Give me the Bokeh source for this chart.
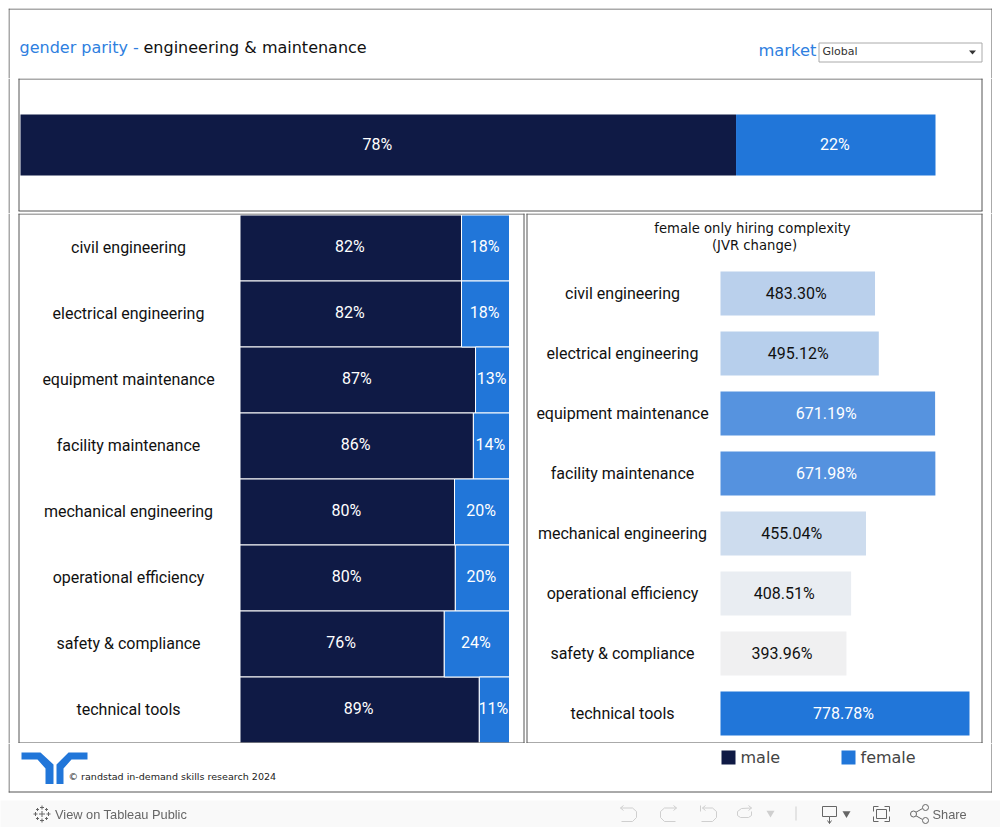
from bokeh.plotting import figure
from bokeh.layouts import column, row
from bokeh.models import Range1d
from bokeh.core.properties import value
from bokeh.embed import file_html
from bokeh.resources import INLINE

# ---- data ----
skills = ["civil engineering", "electrical engineering", "equipment maintenance", "facility maintenance",
          "mechanical engineering", "operational efficiency", "safety & compliance", "technical tools"]
male_share = [82.2, 82.2, 87.4, 86.6, 79.6, 79.9, 75.8, 88.8]
female_share = [17.8, 17.8, 12.6, 13.4, 20.4, 20.1, 24.2, 11.2]
male_labels = ["82%", "82%", "87%", "86%", "80%", "80%", "76%", "89%"]
female_labels = ["18%", "18%", "13%", "14%", "20%", "20%", "24%", "11%"]
overall_male = [78.2]
overall_female = [21.8]
overall_male_label = ["78%"]
overall_female_label = ["22%"]
jvr_change = [483.30, 495.12, 671.19, 671.98, 455.04, 408.51, 393.96, 778.78]
jvr_labels = ["483.30%", "495.12%", "671.19%", "671.98%", "455.04%", "408.51%", "393.96%", "778.78%"]
jvr_colors = ["#bad0ec", "#b7cfec", "#5693df", "#5592df", "#cddcee", "#e9edf2", "#f0f0f1", "#2176d9"]
jvr_text = ["#111111", "#111111", "#ffffff", "#ffffff", "#111111", "#111111", "#111111", "#ffffff"]

NAVY = "#0f1a45"
BLUE = "#2176d9"
TITLE_BLUE = "#2f7fdf"
BORDER = "#555555"
ROBOTO = value("Roboto")
DEJAVU = value("DejaVu Sans")
ARIAL = value("Liberation Sans")


def make(x0, x1, y0, y1, xr=None, yr=None, **kw):
    """A figure covering page pixels x0..x1, y0..y1, with a 'px' / 'py' pair of page-pixel ranges."""
    p = figure(width=x1 - x0, height=y1 - y0,
               x_range=xr or Range1d(x0, x1), y_range=yr or Range1d(y1, y0),
               x_axis_location=None, y_axis_location=None, tools="",
               toolbar_location=None, output_backend="svg", min_border=0,
               min_border_left=0, min_border_right=0, min_border_top=0, min_border_bottom=0,
               outline_line_color=None, margin=(0, 0, 0, 0), **kw)
    p.grid.visible = False
    p.extra_x_ranges["px"] = Range1d(x0, x1)
    p.extra_y_ranges["py"] = Range1d(y1, y0)
    return p


def hline(p, x0, x1, y, color=BORDER):
    p.segment([x0], [y], [x1], [y], line_color=color, line_width=1, x_range_name="px", y_range_name="py")


def vline(p, x, y0, y1, color=BORDER):
    p.segment([x], [y0], [x], [y1], line_color=color, line_width=1, x_range_name="px", y_range_name="py")


def label(p, x, y, s, size, color="#111111", font=DEJAVU, align="left"):
    # text sits one pixel up and left of the marks' grid
    p.text([x - 1], [y - 1], text=[s], text_font=font, text_font_size=f"{size}px", text_color=color,
           text_align=align, text_baseline="middle", x_range_name="px", y_range_name="py")


# ---- header ----
head = make(8, 992, 8, 78)
vline(head, 8.5, 8, 78)
vline(head, 991.5, 8, 78)
hline(head, 8, 992, 8.5)
label(head, 20, 47.5, "gender parity - ", 16, TITLE_BLUE)
label(head, 144, 47.5, "engineering & maintenance", 16, "#111111")
label(head, 759, 50.5, "market", 16.3, TITLE_BLUE)
head.quad(left=[818.5], right=[981.5], top=[42.5], bottom=[61.5], fill_color="white", line_color="#aaaaaa",
          x_range_name="px", y_range_name="py")
label(head, 823, 51.5, "Global", 11, "#333333")
head.patch([968.5, 975.5, 972], [50, 50, 54], fill_color="#333333", line_color=None,
           x_range_name="px", y_range_name="py")

# ---- overall bar: 915px wide bar from x=20 ----
k_top = 915 / 100
top = make(8, 992, 78, 213,
           xr=Range1d((8 - 20) / k_top, (992 - 20) / k_top),
           yr=Range1d(1 + (213 - 175) / 61, (78 - 114) / 61))
for x in (8.5, 18.5, 981.5, 991.5):
    vline(top, x, 78, 213 if x in (8.5, 991.5) else 210.5)
hline(top, 18, 982, 78.5)
hline(top, 18, 982, 210.5)
top.hbar(y=[0.5], height=1, left=[0], right=overall_male, fill_color=NAVY, line_color=None)
top.hbar(y=[0.5], height=1, left=overall_male, right=[overall_male[0] + overall_female[0]],
         fill_color=BLUE, line_color=None)
top.text(x=[overall_male[0] / 2 - 1 / k_top], y=[0.5 - 1 / 61], text=overall_male_label, text_font=ROBOTO,
         text_font_size="16px", text_color="#ffffff", text_align="center", text_baseline="middle")
top.text(x=[overall_male[0] + overall_female[0] / 2 - 1 / k_top], y=[0.5 - 1 / 61], text=overall_female_label,
         text_font=ROBOTO, text_font_size="16px", text_color="#ffffff", text_align="center", text_baseline="middle")

idx = list(range(len(skills)))

# ---- left panel: rows are 66px, bar area starts at 239.5 so the white stroke lands on whole pixels ----
k_left = 269.5 / 100
left = make(8, 525, 213, 743,
            xr=Range1d((8 - 239.5) / k_left, (525 - 239.5) / k_left),
            yr=Range1d((743 - 247.5) / 66, (213 - 247.5) / 66))
left.hbar(y=idx, height=1, left=0, right=male_share, fill_color=NAVY, line_color="white", line_width=1)
left.hbar(y=idx, height=1, left=male_share, right=[m + f for m, f in zip(male_share, female_share)],
          fill_color=BLUE, line_color="white", line_width=1)
vline(left, 8.5, 213, 743)
for x in (18.5, 523.5):
    vline(left, x, 213, 743)
hline(left, 18, 524, 213.5)
hline(left, 18, 524, 742.5)
left.text(x=[128] * 8, y=[i - 0.5 / 66 for i in idx], text=skills, text_font=ROBOTO, text_font_size="16px",
          text_color="#111111", text_align="center", text_baseline="middle", x_range_name="px")
left.text(x=[m / 2 - 1 / k_left for m in male_share], y=[i - 0.027 for i in idx], text=male_labels,
          text_font=ROBOTO, text_font_size="16px", text_color="#ffffff", text_align="center",
          text_baseline="middle")
left.text(x=[m + f / 2 - 1 / k_left for m, f in zip(male_share, female_share)], y=[i - 0.027 for i in idx],
          text=female_labels, text_font=ROBOTO, text_font_size="16px", text_color="#ffffff", text_align="center",
          text_baseline="middle")

# ---- right panel: rows are 60px, bars from x=720 ----
k_right = 249 / 778.78
right = make(525, 992, 213, 743,
             xr=Range1d((525 - 720) / k_right, (992 - 720) / k_right),
             yr=Range1d((743 - 293) / 60, (213 - 293) / 60))
vline(right, 526.5, 213, 743)
vline(right, 981.5, 213, 743)
vline(right, 991.5, 213, 743)
hline(right, 526, 982, 213.5)
hline(right, 526, 982, 742.5)
right.hbar(y=idx, height=44 / 60, left=0, right=jvr_change, fill_color=jvr_colors, line_color=None)
right.text(x=[622] * 8, y=[i - 0.5 / 60 for i in idx], text=skills, text_font=ROBOTO, text_font_size="16px",
           text_color="#111111", text_align="center", text_baseline="middle", x_range_name="px")
right.text(x=[v / 2 - 1.5 / k_right for v in jvr_change], y=[i - 0.5 / 60 for i in idx], text=jvr_labels,
           text_font=ROBOTO, text_font_size="16px", text_color=jvr_text, text_align="center",
           text_baseline="middle")
label(right, 753, 228.5, "female only hiring complexity", 13.2, "#111111", align="center")
label(right, 755, 246, "(JVR change)", 13.2, "#111111", align="center")

# ---- footer ----
foot = make(8, 992, 743, 800)
vline(foot, 8.5, 743, 792)
vline(foot, 991.5, 743, 792)
hline(foot, 8, 992, 791.5)
foot.patch([21, 40, 53, 53, 45, 45, 37, 21], [752, 752, 764, 783.5, 783.5, 768, 759, 759],
           fill_color=BLUE, line_color=None, x_range_name="px", y_range_name="py")
foot.patch([87, 68, 56, 56, 63, 63, 71, 87], [752, 752, 764, 783.5, 783.5, 768, 759, 759],
           fill_color=BLUE, line_color=None, x_range_name="px", y_range_name="py")
label(foot, 69, 776.5, "© randstad in-demand skills research 2024", 9.55, "#222222")
foot.quad(left=[721, 841], right=[735, 855], top=[750, 750], bottom=[764, 764], fill_color=[NAVY, BLUE],
          line_color=None, x_range_name="px", y_range_name="py")
label(foot, 741, 757.5, "male", 16, "#444444")
label(foot, 861, 757.5, "female", 16, "#444444")

# ---- viewer bar ----
bar = make(0, 1000, 800, 827, background_fill_color="#f9f9f9", border_fill_color="#f9f9f9")
bar.styles = {"position": "fixed", "left": "0px", "top": "800px"}
bar.text([54.5], [813.5], text=["View on Tableau Public"], text_font=ARIAL, text_font_size="12.8px",
         text_color="#666666", text_baseline="middle", x_range_name="px", y_range_name="py")
bar.text([932], [813.5], text=["Share"], text_font=ARIAL, text_font_size="12.8px", text_color="#666666",
         text_baseline="middle", x_range_name="px", y_range_name="py")
# Tableau mark made of small crosses
for cx, cy, r in [(41.5, 813.5, 3), (35, 813.5, 2), (48, 813.5, 2), (41.5, 807, 2), (41.5, 820, 2),
                  (37, 809, 1.5), (46, 809, 1.5), (37, 818, 1.5), (46, 818, 1.5)]:
    bar.multi_line([[cx - r, cx + r], [cx, cx]], [[cy, cy], [cy - r, cy + r]], line_color="#666666", line_width=1,
                   x_range_name="px", y_range_name="py")
GREY = "#cfcfcf"
DARK = "#666666"
icons = [
    # undo
    ([623, 620, 623], [805, 807.5, 810], GREY),
    ([620, 632, 636, 636, 632, 621], [807.5, 807.5, 811, 817, 821, 821], GREY),
    # redo
    ([673, 676, 673], [805, 807.5, 810], GREY),
    ([676, 664, 660, 660, 664, 675], [807.5, 807.5, 811, 817, 821, 821], GREY),
    # revert
    ([700, 700], [805, 811], GREY),
    ([705, 702, 705], [805, 807.5, 810], GREY),
    ([702, 712, 716, 716, 712, 701], [807.5, 807.5, 811, 817, 821, 821], GREY),
    # refresh
    ([748, 751, 748], [805, 807.5, 810], GREY),
    ([751, 741, 737, 737, 740, 748, 751, 751], [807.5, 808, 811, 815, 817, 817, 815, 811], GREY),
    ([795.5, 795.5], [806, 820], GREY),
    # download
    ([829, 822, 822, 836, 836, 829, 829], [816, 816, 806, 806, 816, 816, 823], DARK),
    ([827, 829, 831], [820, 823, 820], DARK),
    # full screen
    ([873, 873, 878], [811, 806, 806], DARK), ([884, 889, 889], [806, 806, 811], DARK),
    ([889, 889, 884], [816, 821, 821], DARK), ([878, 873, 873], [821, 821, 816], DARK),
    ([876, 886, 886, 876, 876], [809, 809, 818, 818, 809], DARK),
    # share
    ([915, 922], [812, 808], DARK), ([915, 922], [815, 819], DARK),
]
for xs, ys, c in icons:
    bar.line(xs, ys, line_color=c, line_width=1, x_range_name="px", y_range_name="py")
bar.scatter([770], [812.5], marker="inverted_triangle", size=8, fill_color=GREY, line_color=None,
            x_range_name="px", y_range_name="py")
bar.scatter([846], [813], marker="inverted_triangle", size=8, fill_color=DARK, line_color=None,
            x_range_name="px", y_range_name="py")
bar.scatter([913, 925, 925], [813.5, 807, 820], marker="circle", size=6, fill_color="#f9f9f9", line_color=DARK,
            x_range_name="px", y_range_name="py")

page = column(head, top, row(left, right, spacing=0), foot, bar, spacing=0, margin=(8, 0, 0, 8))
open("out.html", "w").write(file_html(page, INLINE))
